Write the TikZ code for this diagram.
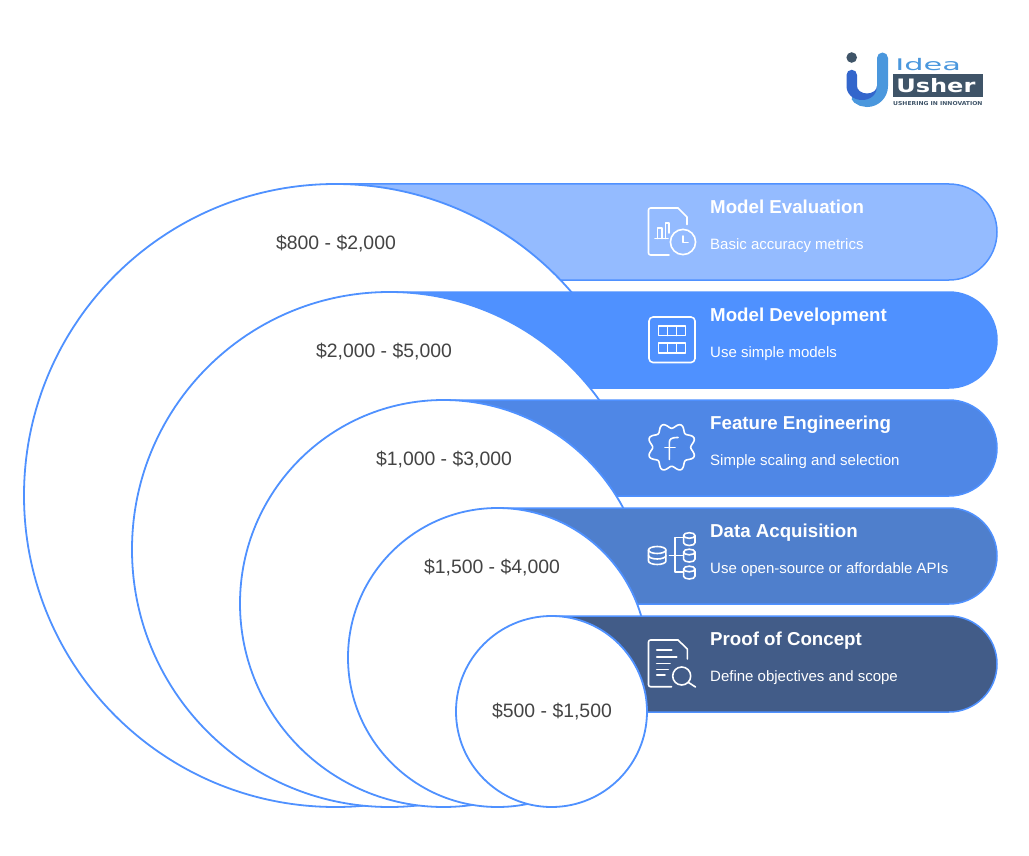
\documentclass[tikz,border=0pt]{standalone}
\usepackage{fontspec}
\setmainfont{Liberation Sans}
\newfontfamily\logofont{DejaVu Sans}
\definecolor{edge}{HTML}{4F91FF}
\definecolor{barA}{HTML}{94BBFF}
\definecolor{barB}{HTML}{4F91FF}
\definecolor{barC}{HTML}{4F87E6}
\definecolor{barD}{HTML}{4F7FCC}
\definecolor{barE}{HTML}{425C88}
\definecolor{pricegray}{HTML}{444444}
\definecolor{logodark}{HTML}{3F5468}
\definecolor{logoblue}{HTML}{4A97DD}
\definecolor{logodeep}{HTML}{3366CC}
\tikzset{
  barshape/.style={draw=edge,line width=1.5pt,fill=#1},
  disc/.style={draw=edge,line width=1.8pt,fill=white,circle,inner sep=0pt},
  price/.style={text=pricegray,font=\fontsize{19.4}{21}\selectfont,anchor=base,inner sep=0pt},
  title/.style={text=white,font=\fontsize{18.7}{20}\selectfont\bfseries,anchor=base west,inner sep=0pt},
  sub/.style={text=white,font=\fontsize{15}{17}\selectfont,anchor=base west,inner sep=0pt},
  icon/.style={draw=white,line width=1.6pt,line join=round,line cap=round},
}
\newcommand{\pricebar}[3]{% top, circle cx, colour
  \draw[barshape=#3] (#2,#1) -- (949,#1) arc[start angle=90,end angle=-90,x radius=48,y radius=-48] -- (#2,#1+96);
}
\begin{document}
\begin{tikzpicture}[x=1pt,y=-1pt]
\useasboundingbox (0,0) rectangle (1029,856);
% bars and discs, back to front; the white blocks hide each disc's arc below the next bar's top
\pricebar{184}{335.5}{barA}
\node[disc,minimum size=623pt] (d1) at (335.5,495.5) {};
\fill[white] (572.5,292) rectangle (1029,856);
\pricebar{292}{389.5}{barB}
\node[disc,minimum size=515pt] (d2) at (389.5,549.5) {};
\fill[white] (600.5,400) rectangle (1029,856);
\pricebar{400}{443.5}{barC}
\node[disc,minimum size=407pt] (d3) at (443.5,603.5) {};
\fill[white] (624.5,508) rectangle (1029,856);
\pricebar{508}{497.5}{barD}
\node[disc,minimum size=299pt] (d4) at (497.5,657.5) {};
\fill[white] (642.5,616) rectangle (1029,856);
\pricebar{616}{551.5}{barE}
\node[disc,minimum size=191pt] (d5) at (551.5,711.5) {};
% prices
\node[price] (p1) at (336,249.5) {\$800 - \$2,000};
\node[price] (p2) at (384,357.5) {\$2,000 - \$5,000};
\node[price] (p3) at (444,465.5) {\$1,000 - \$3,000};
\node[price] (p4) at (492,573.5) {\$1,500 - \$4,000};
\node[price] (p5) at (552,717.5) {\$500 - \$1,500};
% titles
\node[title] (t1) at (710,213.5) {Model Evaluation};
\node[sub] (s1) at (710,249) {Basic accuracy metrics};
\node[title] (t2) at (710,321.5) {Model Development};
\node[sub] (s2) at (710,357) {Use simple models};
\node[title] (t3) at (710,429.5) {Feature Engineering};
\node[sub] (s3) at (710,465) {Simple scaling and selection};
\node[title] (t4) at (710,537.5) {Data Acquisition};
\node[sub] (s4) at (710,573) {Use open-source or affordable APIs};
\node[title] (t5) at (710,645.5) {Proof of Concept};
\node[sub] (s5) at (710,681) {Define objectives and scope};
% icon 1: report with clock
\draw[icon] (687,224.5) -- (687,217) -- (678,208);
\draw[icon,rounded corners=2pt] (678,208) -- (648.5,208) -- (648.5,255) -- (669,255);
\draw[icon] (655,238.5) -- (668,238.5);
\draw[icon] (657.5,238.5) -- (657.5,228) -- (662,228) -- (662,238.5);
\draw[icon] (665.5,238.5) -- (665.5,223) -- (669,223) -- (669,233);
\draw[icon] (683,242) circle[radius=12.6];
\draw[icon] (683,236) -- (683,242.5) -- (688,242.5);
% icon 2: grid
\draw[icon,rounded corners=4pt] (649,317) rectangle (695,362.5);
\draw[icon] (658.5,326) rectangle (685.5,335.5) (667.5,326) -- (667.5,335.5) (676.5,326) -- (676.5,335.5);
\draw[icon] (658.5,343) rectangle (685.5,353) (667.5,343) -- (667.5,353) (676.5,343) -- (676.5,353);
% icon 3: wavy gear with f
\draw[icon,smooth,samples=145,domain=0:360,variable=\t] plot ({671.7+(21.6-2.6*cos(8*\t))*cos(\t)},{447.3+(21.6-2.6*cos(8*\t))*sin(\t)}) -- cycle;
\draw[icon] (669.3,459.5) -- (669.3,443) .. controls (669.3,439) and (671,437.5) .. (678,437.5);
\draw[icon] (665,447.3) -- (675,447.3);
% icon 4: databases
\foreach \cy in {539,555.5,572.5}{
  \draw[icon] (683.6,\cy-3.5) arc[start angle=180,end angle=-180,x radius=5.7,y radius=-2.8];
  \draw[icon] (683.6,\cy-3.5) -- (683.6,\cy+3.7) arc[start angle=180,end angle=360,x radius=5.7,y radius=-2.8] -- (695,\cy-3.5);
}
\draw[icon] (648.5,550) arc[start angle=180,end angle=-180,x radius=8.7,y radius=-3.5];
\draw[icon] (648.5,550) -- (648.5,561) arc[start angle=180,end angle=360,x radius=8.7,y radius=-3.5] -- (665.9,550);
\draw[icon] (648.5,555.5) arc[start angle=180,end angle=360,x radius=8.7,y radius=-3.5];
\draw[icon] (683,537.5) -- (675,537.5) -- (675,571.7) -- (683,571.7);
\draw[icon] (669.5,555.5) -- (683,555.5);
% icon 5: document with magnifier
\draw[icon,rounded corners=2pt] (678,640) -- (648.5,640) -- (648.5,686.7) -- (671.5,686.7);
\draw[icon] (678,640) -- (687.3,649) -- (687.3,659);
\draw[icon] (656.7,650) -- (671.7,650) (656.7,656.7) -- (676.7,656.7) (656.7,663.3) -- (670,663.3) (656.7,669.3) -- (668.3,669.3) (656.7,675) -- (665,675);
\draw[icon] (681.7,676) circle[radius=9];
\draw[icon] (688.5,682.5) -- (695.5,687);
% logo
\draw[logoblue,line width=11pt,line cap=round] (882.5,58) -- (882.5,86) arc[start angle=0,end angle=-130,x radius=15.5,y radius=-15.5];
\fill[logodeep] (846.5,75) arc[start angle=180,end angle=0,x radius=5.25,y radius=-5.25] -- (857,86) arc[start angle=180,end angle=360,x radius=10,y radius=-7.5] .. controls (877,95) and (870,100) .. (862,100) .. controls (853,100) and (846.5,94) .. (846.5,86) -- cycle;
\fill[logodark] (851.7,57.5) circle[radius=5.3];
\fill[logodark] (893,74) rectangle (983,97);
\node[text=logoblue,font=\logofont\fontsize{16}{16}\selectfont,anchor=base west,inner sep=0pt,xscale=1.9,transform shape] (l1) at (895,71) {Idea};
\node[text=white,font=\logofont\bfseries\fontsize{18.5}{19}\selectfont,anchor=base west,inner sep=0pt,xscale=1.3,transform shape] (l2) at (896,92.5) {Usher};
\node[text=logodark,font=\logofont\bfseries\fontsize{5.4}{6}\selectfont,anchor=base west,inner sep=0pt,xscale=1.12,transform shape] (l3) at (893,106) {USHERING IN INNOVATION};
\end{tikzpicture}
\end{document}
